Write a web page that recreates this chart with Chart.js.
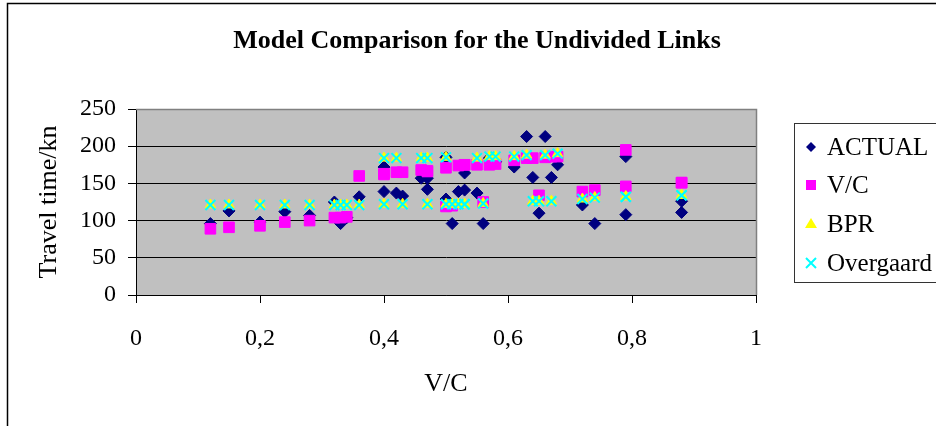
<!DOCTYPE html>
<html lang="en">
<head>
<meta charset="UTF-8">
<title>Model Comparison for the Undivided Links</title>
<script src="https://cdn.jsdelivr.net/npm/chart.js"></script>
<style>
  html, body { margin: 0; padding: 0; background: #fff; }
</style>
</head>
<body>
<canvas id="modelChart" width="936" height="426"></canvas>

<script>
// V/C ratio of each link (x axis)
var vcRatio  = [0.12, 0.15, 0.20, 0.24, 0.28, 0.32, 0.33, 0.34, 0.36, 0.40, 0.40, 0.42, 0.43,
                0.46, 0.47, 0.47, 0.50, 0.50, 0.51, 0.52, 0.53, 0.53, 0.55, 0.56, 0.57, 0.58,
                0.61, 0.63, 0.64, 0.65, 0.66, 0.67, 0.68, 0.72, 0.74, 0.79, 0.79, 0.88, 0.88];
// travel time per series
var actual   = [96, 113, 98, 112, 107, 125, 96, 104, 132, 172, 139, 137, 133,
                157, 157, 142, 185, 129, 96, 139, 141, 164, 137, 96, 184, 179,
                172, 213, 158, 110, 213, 158, 175, 121, 96, 186, 108, 126, 111];
var vcModel  = [89, 91, 93, 98, 100, 104, 104, 105, 160, 163, 162, 165, 165,
                168, 167, 166, 171, 119, 120, 174, 175, 175, 175, 125, 175, 176,
                181, 184, 184, 134, 185, 186, 186, 139, 141, 195, 146, 151, 151];
var bpr      = [121, 121, 121, 121, 121, 121, 121, 121, 121, 184, 122, 184, 122,
                184, 184, 122, 185, 122, 122, 122, 122, 122, 184, 123, 186, 186,
                186, 188, 126, 126, 188, 126, 190, 129, 131, 132, 132, 134, 134];
var overgaard = [121, 121, 121, 121, 121, 121, 121, 121, 121, 184, 122, 184, 122,
                184, 184, 122, 185, 122, 122, 122, 122, 122, 184, 123, 186, 186,
                186, 188, 126, 126, 188, 126, 190, 129, 131, 132, 132, 134, 134];

var seriesNames = ['ACTUAL', 'V/C', 'BPR', 'Overgaard'];
var yTicks = [0, 50, 100, 150, 200, 250];

var serif = '"Liberation Serif", "Times New Roman", serif';

function toPoints(ys) {
  return vcRatio.map(function (x, i) { return { x: x, y: ys[i] }; });
}

var styles = [
  { pointStyle: 'rectRot',  color: '#000080', radius: 6 },
  { pointStyle: 'rect',     color: '#FF00FF', radius: 7.5 },
  { pointStyle: 'triangle', color: '#FFFF00', radius: 6 },
  { pointStyle: 'crossRot', color: '#00FFFF', radius: 7 }
];

var allSeries = [actual, vcModel, bpr, overgaard];

var datasets = allSeries.map(function (ys, i) {
  var s = styles[i];
  return {
    label: seriesNames[i],
    data: toPoints(ys),
    pointStyle: s.pointStyle,
    pointRadius: s.radius,
    pointHoverRadius: s.radius,
    backgroundColor: s.color,
    borderColor: s.color,
    pointBorderWidth: s.pointStyle === 'crossRot' ? 2 : 1,
    order: 3 - i   // later series on top, like Excel
  };
});

// draw one legend marker by hand
function drawMarker(ctx, style, x, y) {
  ctx.save();
  ctx.fillStyle = style.color;
  ctx.strokeStyle = style.color;
  ctx.beginPath();
  if (style.pointStyle === 'rectRot') {
    ctx.moveTo(x, y - 5); ctx.lineTo(x + 5, y); ctx.lineTo(x, y + 5); ctx.lineTo(x - 5, y);
    ctx.closePath(); ctx.fill();
  } else if (style.pointStyle === 'rect') {
    ctx.fillRect(x - 5, y - 5, 10, 10);
  } else if (style.pointStyle === 'triangle') {
    ctx.moveTo(x, y - 6); ctx.lineTo(x + 6, y + 4); ctx.lineTo(x - 6, y + 4);
    ctx.closePath(); ctx.fill();
  } else {
    ctx.lineWidth = 2;
    ctx.moveTo(x - 5, y - 5); ctx.lineTo(x + 5, y + 5);
    ctx.moveTo(x + 5, y - 5); ctx.lineTo(x - 5, y + 5);
    ctx.stroke();
  }
  ctx.restore();
}

var excelLook = {
  id: 'excelLook',
  beforeDraw: function (chart) {
    var ctx = chart.ctx, a = chart.chartArea;
    ctx.save();
    ctx.fillStyle = '#fff';
    ctx.fillRect(0, 0, chart.width, chart.height);
    ctx.fillStyle = '#C0C0C0';
    ctx.fillRect(a.left, a.top, a.right - a.left, a.bottom - a.top);
    ctx.restore();
  },
  beforeDatasetsDraw: function (chart) {
    var ctx = chart.ctx, a = chart.chartArea;
    ctx.save();
    ctx.strokeStyle = '#808080';
    ctx.lineWidth = 1.5;
    ctx.beginPath();
    ctx.moveTo(a.left, a.top + 0.5);
    ctx.lineTo(a.right + 0.5, a.top + 0.5);
    ctx.lineTo(a.right + 0.5, a.bottom);
    ctx.stroke();
    ctx.restore();
  },
  afterDraw: function (chart) {
    var ctx = chart.ctx;
    ctx.save();
    // outer chart frame
    ctx.strokeStyle = '#000';
    ctx.lineWidth = 1.5;
    ctx.strokeRect(7.5, 3.5, 1000, 1000);

    // title
    ctx.fillStyle = '#000';
    ctx.font = 'bold 26px ' + serif;
    ctx.textAlign = 'center';
    ctx.textBaseline = 'middle';
    ctx.fillText('Model Comparison for the Undivided Links', 477, 41);

    // legend
    ctx.strokeStyle = '#333';
    ctx.lineWidth = 1;
    ctx.strokeRect(794.5, 123.5, 300, 159);
    ctx.font = '25px ' + serif;
    ctx.textAlign = 'left';
    var rows = [147, 185, 224, 263];
    seriesNames.forEach(function (name, i) {
      drawMarker(ctx, styles[i], 811, rows[i]);
      ctx.fillStyle = '#000';
      ctx.fillText(name, 827, rows[i] + 1);
    });
    ctx.restore();
  }
};

var chart = new Chart(document.getElementById('modelChart').getContext('2d'), {
  type: 'scatter',
  data: { datasets: datasets },
  options: {
    responsive: false,
    devicePixelRatio: 1,
    animation: false,
    layout: { padding: { left: 0, right: 180, top: 109, bottom: 0 } },
    plugins: {
      legend: { display: false },
      title: { display: false },
      tooltip: { enabled: false }
    },
    scales: {
      x: {
        type: 'linear',
        min: 0,
        max: 1,
        afterFit: function (s) { s.height = 131; },
        ticks: {
          stepSize: 0.2,
          padding: 21,
          color: '#000',
          font: { family: serif, size: 24 },
          callback: function (v) { return String(Math.round(v * 10) / 10).replace('.', ','); }
        },
        grid: { drawOnChartArea: false, drawTicks: true, tickLength: 8, tickColor: '#000' },
        border: { color: '#000', width: 1 },
        title: {
          display: true,
          text: 'V/C',
          color: '#000',
          font: { family: serif, size: 26 },
          padding: { top: 0, bottom: 26 }
        }
      },
      y: {
        min: 0,
        max: 250,
        afterFit: function (s) { s.width = 136; },
        afterBuildTicks: function (s) { s.ticks = yTicks.map(function (v) { return { value: v }; }); },
        ticks: {
          padding: 12,
          color: '#000',
          font: { family: serif, size: 24 }
        },
        grid: {
          color: function (c) { return c.tick && c.tick.value === 250 ? '#808080' : '#000'; },
          tickColor: '#000',
          tickLength: 8,
          lineWidth: 1
        },
        border: { color: '#000', width: 1 },
        title: {
          display: true,
          text: 'Travel time/kn',
          color: '#000',
          font: { family: serif, size: 26 },
          padding: { top: 34, bottom: 0 }
        }
      }
    }
  },
  plugins: [excelLook]
});
</script>
</body>
</html>
